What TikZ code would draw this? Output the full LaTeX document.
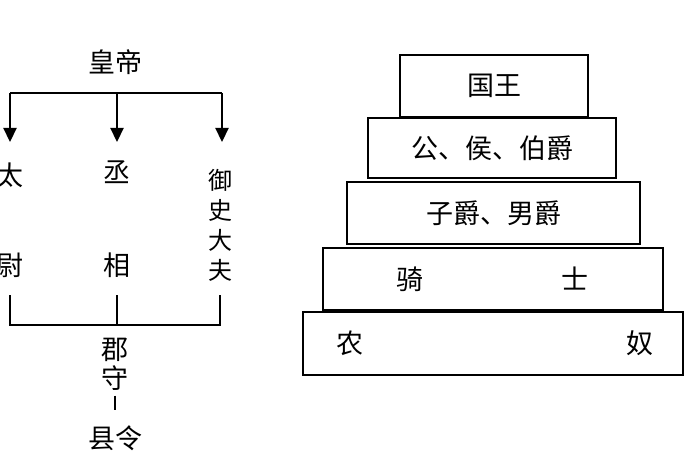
\documentclass[tikz,border=0pt]{standalone}
\usepackage{fontspec}
\newfontfamily\cjk{Noto Sans CJK SC}
\usetikzlibrary{arrows.meta}
\begin{document}
\begin{tikzpicture}[x=1pt,y=-1pt,line width=2.2pt,
  lbl/.style={font=\cjk\fontsize{27}{29}\selectfont,inner sep=0pt},
  tier/.style={draw,line width=2.2pt,inner sep=0pt,font=\cjk\fontsize{27}{29}\selectfont},
  arr/.style={-{Triangle[length=14pt,width=13pt]}}]
\useasboundingbox (0,0) rectangle (700,470);
% left tree
\node[lbl] (hd) at (115,62) {皇帝};
\coordinate (hL) at (10,93); \coordinate (hM) at (117,93); \coordinate (hR) at (222,93);
\draw (hL) -- (hR);
\node[lbl] (t1) at (10,175) {太};
\node[lbl] (t2) at (10,265) {尉};
\node[lbl] (c1) at (117,172) {丞};
\node[lbl] (c2) at (117,265) {相};
\node[lbl,align=center,font=\cjk\fontsize{24}{30}\selectfont] (y) at (220,225) {御\\史\\大\\夫};
\draw[arr] (hL) -- (10,142);
\draw[arr] (hM) -- (117,142);
\draw[arr] (hR) -- (222,142);
\coordinate (bL) at (10,325); \coordinate (bR) at (220,325);
\draw (10,295) -- (bL) -- (bR) -- (220,295);
\draw (117,295) -- (117,325);
\node[lbl] (j1) at (115,350) {郡};
\node[lbl] (j2) at (115,378) {守};
\draw (j2.south) ++(0,4) coordinate (a) -- ++(0,14) coordinate (b);
\node[lbl] (x) at (115,438) {县令};
% right pyramid
\node[tier,minimum width=188pt,minimum height=62pt] (k) at (494,86) {国王};
\node[tier,minimum width=248pt,minimum height=60pt] (g) at (492,148) {公、侯、伯爵};
\node[tier,minimum width=293pt,minimum height=62pt] (z) at (493.5,213) {子爵、男爵};
\node[tier,minimum width=340pt,minimum height=62pt] (q) at (493,279) {};
\node[lbl] at (410,279) {骑};
\node[lbl] at (575,279) {士};
\node[tier,minimum width=380pt,minimum height=63pt] (n) at (493,343.5) {};
\node[lbl] at (350,343) {农};
\node[lbl] at (640,343) {奴};
\end{tikzpicture}
\end{document}
